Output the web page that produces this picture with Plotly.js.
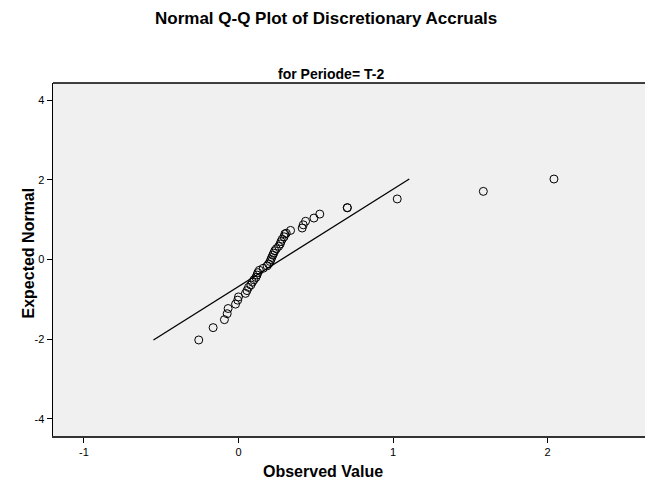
<!DOCTYPE html>
<html>
<head>
<meta charset="utf-8">
<script src="https://cdn.plot.ly/plotly-3.0.1.min.js"></script>
<style>html,body{margin:0;padding:0;background:#fff;}#chart{width:645px;height:481px;}</style>
</head>
<body>
<div id="chart"></div>
<script>
const observedValue = [-0.257, -0.164, -0.091, -0.073, -0.067, -0.019, -0.005, 0.000, 0.045, 0.055,
  0.065, 0.080, 0.090, 0.100, 0.113, 0.120, 0.125, 0.135, 0.160, 0.185,
  0.195, 0.205, 0.210, 0.215, 0.222, 0.228, 0.235, 0.245, 0.260, 0.270,
  0.275, 0.283, 0.295, 0.300, 0.309, 0.337, 0.412, 0.419, 0.434, 0.488,
  0.526, 0.704, 0.704, 1.027, 1.584, 2.041];
const expectedNormal = [-2.02, -1.71, -1.51, -1.36, -1.23, -1.12, -1.02, -0.94, -0.85, -0.78,
  -0.70, -0.64, -0.57, -0.51, -0.45, -0.39, -0.33, -0.27, -0.22, -0.16,
  -0.11, -0.05, 0.00, 0.05, 0.11, 0.16, 0.22, 0.27, 0.33, 0.39,
  0.45, 0.51, 0.57, 0.64, 0.66, 0.73, 0.79, 0.87, 0.96, 1.04,
  1.14, 1.30, 1.30, 1.52, 1.71, 2.02];
// Reference line end points
const lineX = [-0.55, 1.105];
const lineY = [-2.02, 2.02];
const xTicks = [-1, 0, 1, 2];
const yTicks = [-4, -2, 0, 2, 4];

const FONT = "Liberation Sans, Arial, Helvetica, sans-serif";

const traces = [
  {x: lineX, y: lineY, mode: 'lines', type: 'scatter',
   line: {color: '#000', width: 1.3}, hoverinfo: 'skip', showlegend: false},
  {x: observedValue, y: expectedNormal, mode: 'markers', type: 'scatter',
   marker: {symbol: 'circle-open', size: 8, color: '#000', line: {width: 1, color: '#000'}},
   showlegend: false}
];

const layout = {
  width: 645, height: 481,
  margin: {l: 53, r: 0, t: 83, b: 45, pad: 0},
  paper_bgcolor: '#ffffff',
  plot_bgcolor: '#f0f0f0',
  font: {family: FONT, size: 11, color: '#000'},
  showlegend: false,
  xaxis: {
    range: [-1.2, 2.63], tickvals: xTicks, ticktext: xTicks.map(String),
    showgrid: false, zeroline: false,
    showline: true, linecolor: '#333', linewidth: 2,
    ticks: 'outside', ticklen: 5, tickwidth: 1, tickcolor: '#000',
    tickfont: {family: FONT, size: 11, color: '#000'}
  },
  yaxis: {
    range: [-4.43, 4.43], tickvals: yTicks, ticktext: yTicks.map(String),
    showgrid: false, zeroline: false,
    showline: true, linecolor: '#000', linewidth: 1.5,
    ticks: 'outside', ticklen: 5, tickwidth: 1, tickcolor: '#000',
    tickfont: {family: FONT, size: 11, color: '#000'}
  },
  shapes: [
    {type: 'line', xref: 'paper', yref: 'paper', x0: 0, x1: 1, y0: 1, y1: 1,
     line: {color: '#000', width: 1.5}}
  ],
  annotations: [
    {text: '<b>Normal Q-Q Plot of Discretionary Accruals</b>', xref: 'paper', yref: 'paper',
     x: (326 - 53) / 592, y: 1, yshift: 65, xanchor: 'center', yanchor: 'middle', showarrow: false,
     font: {family: FONT, size: 17, color: '#000'}},
    {text: '<b>for Periode= T-2</b>', xref: 'paper', yref: 'paper',
     x: (331 - 53) / 592, y: 1, yshift: 9, xanchor: 'center', yanchor: 'middle', showarrow: false,
     font: {family: FONT, size: 14, color: '#000'}},
    {text: '<b>Observed Value</b>', xref: 'paper', yref: 'paper',
     x: (323 - 53) / 592, y: 0, yshift: -35, xanchor: 'center', yanchor: 'middle', showarrow: false,
     font: {family: FONT, size: 16, color: '#000'}},
    {text: '<b>Expected Normal</b>', xref: 'paper', yref: 'paper',
     x: 0, xshift: -25, y: 0.5, yshift: 6, xanchor: 'center', yanchor: 'middle', textangle: -90, showarrow: false,
     font: {family: FONT, size: 16, color: '#000'}}
  ]
};

Plotly.newPlot('chart', traces, layout, {displayModeBar: false, staticPlot: true});
</script>
</body>
</html>
